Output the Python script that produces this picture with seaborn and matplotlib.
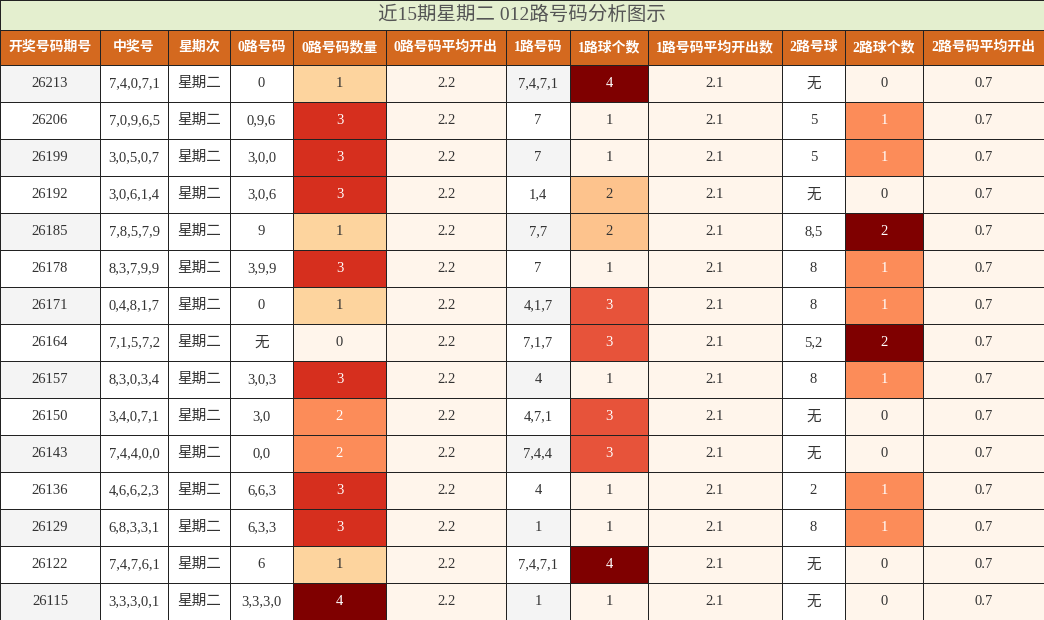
import numpy as np
import matplotlib
matplotlib.use("Agg")
import matplotlib.pyplot as plt
import seaborn as sns
from matplotlib import colors as mcolors

sns.set_style("white")
plt.rcParams['font.family'] = ['Liberation Serif', 'Noto Sans CJK SC', 'DejaVu Sans']

title = "近15期星期二 012路号码分析图示"
headers = ["开奖号码期号", "中奖号", "星期次", "0路号码", "0路号码数量", "0路号码平均开出",
           "1路号码", "1路球个数", "1路号码平均开出数", "2路号球", "2路球个数", "2路号码平均开出"]
issues = ["26213","26206","26199","26192","26185","26178","26171","26164","26157","26150","26143","26136","26129","26122","26115"]
numbers = ["7,4,0,7,1","7,0,9,6,5","3,0,5,0,7","3,0,6,1,4","7,8,5,7,9","8,3,7,9,9","0,4,8,1,7","7,1,5,7,2",
           "8,3,0,3,4","3,4,0,7,1","7,4,4,0,0","4,6,6,2,3","6,8,3,3,1","7,4,7,6,1","3,3,3,0,1"]
weekday = ["星期二"] * 15
r0 = ["0","0,9,6","3,0,0","3,0,6","9","3,9,9","0","无","3,0,3","3,0","0,0","6,6,3","6,3,3","6","3,3,3,0"]
c0 = [1,3,3,3,1,3,1,0,3,2,2,3,3,1,4]
a0 = ["2.2"] * 15
r1 = ["7,4,7,1","7","7","1,4","7,7","7","4,1,7","7,1,7","4","4,7,1","7,4,4","4","1","7,4,7,1","1"]
c1 = [4,1,1,2,2,1,3,3,1,3,3,1,1,4,1]
a1 = ["2.1"] * 15
r2 = ["无","5","5","无","8,5","8","8","5,2","8","无","无","2","8","无","无"]
c2 = [0,1,1,0,2,1,1,2,1,0,0,1,1,0,0]
a2 = ["0.7"] * 15

xedges = np.array([0,100,168,230,293,386,506,570,648,782,845,923,1044])
top, hdr_h, row_h = 30, 35, 37
n = len(issues)
yedges = np.array([top + hdr_h + i * row_h for i in range(n + 1)])

cmap = matplotlib.colormaps["OrRd"]
cream = mcolors.to_rgb("#fff5eb")
gray = mcolors.to_rgb("#f4f4f4")
white = (1, 1, 1)

cols = [issues, numbers, weekday, r0, c0, a0, r1, c1, a1, r2, c2, a2]
count_cols = {4: (c0, 0, 4), 7: (c1, 1, 4), 10: (c2, 0, 2)}
C = np.ones((n, 12, 3))
txtcol = np.empty((n, 12), dtype=object)
for i in range(n):
    for j in range(12):
        txtcol[i, j] = "#333333"
        if j in count_cols:
            vals, lo, hi = count_cols[j]
            t = (vals[i] - lo) / (hi - lo)
            C[i, j] = cream if t <= 0 else cmap(t)[:3]
            if t >= 0.5:
                txtcol[i, j] = "white"
        elif j in (5, 8, 11):
            C[i, j] = cream
        elif j in (0, 6):
            C[i, j] = gray if i % 2 == 0 else white
        else:
            C[i, j] = white

fig = plt.figure(figsize=(10.44, 6.2), dpi=100)
ax = fig.add_axes([0, 0, 1, 1])
lw = 0.6
ax.pcolormesh(xedges, yedges, C, edgecolors="#222222", linewidth=lw)
hdr = np.array([[mcolors.to_rgb("#d4691f")] * 12])
ax.pcolormesh(xedges, [top, top + hdr_h], hdr, edgecolors="#222222", linewidth=lw)
ax.pcolormesh([0, 1044], [0, top], np.array([[mcolors.to_rgb("#e4efcf")]]), edgecolors="#222222", linewidth=lw)
ax.text(522, top / 2, title, ha="center", va="center", fontsize=14, color="#555555")
xc = (xedges[:-1] + xedges[1:]) / 2
for j, h in enumerate(headers):
    ax.text(xc[j], top + hdr_h / 2, h, ha="center", va="center", fontsize=10, color="white", fontweight="bold")
for i in range(n):
    yc = (yedges[i] + yedges[i + 1]) / 2
    for j in range(12):
        ax.text(xc[j], yc, str(cols[j][i]), ha="center", va="center", fontsize=10.5, color=txtcol[i, j])
ax.set_xlim(0, 1044)
ax.set_ylim(620, 0)
ax.axis("off")
fig.savefig("out.png", dpi=100)
